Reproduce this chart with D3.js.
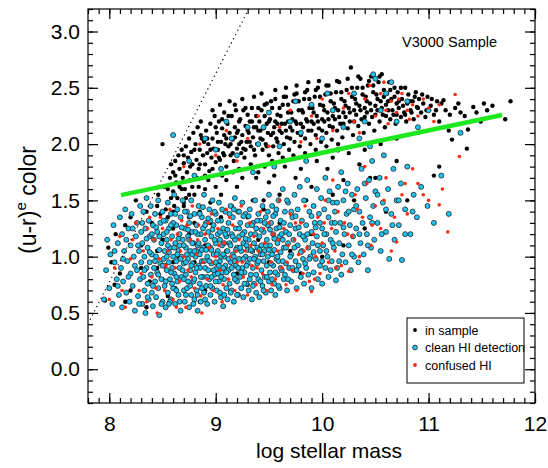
<!DOCTYPE html>
<html>
<head>
<meta charset="utf-8">
<script src="https://cdn.jsdelivr.net/npm/d3@7"></script>
<style>
  body { margin: 0; background: #fff; }
  text { font-family: "Liberation Sans", Arial, Helvetica, sans-serif; }
</style>
</head>
<body>
<div id="maViz"></div>
<script>
// dimensions + marges
const margin = {top: 9, right: 13, bottom: 65, left: 88};
const width = 548 - margin.left - margin.right;
const height = 468 - margin.top - margin.bottom;

// axes
const xDomain = [7.8, 12.0];
const yDomain = [-0.3, 3.2];
const xTicks = [8, 9, 10, 11, 12];
const yTicks = [0.0, 0.5, 1.0, 1.5, 2.0, 2.5, 3.0];
const legendLabels = ["in sample", "clean HI detection", "confused HI"];

// green dividing line + dotted line (endpoints)
const greenLine = [[8.11, 1.547], [11.69, 2.258]];
const dottedLine = [[7.82, 0.44], [9.31, 3.2]];

// "in sample" (black)
const inSample = [
  [8.46,1.55],[8.5,2.0],[8.52,1.62],[8.55,1.48],[8.57,1.7],[8.58,1.82],[8.6,1.58],[8.6,1.75],[8.48,1.38],[8.53,1.42],
  [8.62,1.85],[8.63,1.66],[8.65,1.9],[8.66,1.78],[8.68,1.95],[8.68,1.6],[8.7,1.83],[8.64,1.52],[8.69,1.7],[8.61,1.45],
  [8.72,1.98],[8.73,1.75],[8.74,1.88],[8.75,2.05],[8.76,1.68],[8.77,1.93],[8.78,1.82],[8.79,2.1],[8.71,1.6],[8.8,1.72],[8.75,1.55],
  [8.81,2.0],[8.82,1.86],[8.83,2.15],[8.84,1.78],[8.85,1.95],[8.86,2.08],[8.87,1.7],[8.88,1.9],[8.89,2.02],[8.9,1.82],[8.84,1.62],[8.86,2.2],
  [8.91,2.12],[8.92,1.92],[8.93,2.0],[8.94,1.76],[8.95,2.18],[8.96,1.88],[8.97,2.05],[8.98,1.96],[8.99,2.25],[9.0,1.84],[8.93,1.68],[8.97,2.3],
  [9.01,2.1],[9.02,1.95],[9.03,2.2],[9.04,1.86],[9.05,2.02],[9.06,2.14],[9.07,1.92],[9.08,2.28],[9.09,2.0],[9.1,1.8],[9.04,2.35],[9.06,1.72],[9.08,2.08],
  [9.11,2.18],[9.12,1.98],[9.13,2.1],[9.14,1.9],[9.15,2.25],[9.16,2.04],[9.17,1.85],[9.18,2.15],[9.19,2.3],[9.2,1.96],[9.13,2.38],[9.16,1.75],[9.18,2.06],
  [9.21,2.12],[9.22,2.0],[9.23,2.22],[9.24,1.92],[9.25,2.08],[9.26,2.3],[9.27,1.88],[9.28,2.16],[9.29,2.02],[9.3,2.26],[9.22,1.78],[9.25,2.4],[9.28,1.95],
  [9.31,2.1],[9.32,2.2],[9.33,1.98],[9.34,2.32],[9.35,2.06],[9.36,2.15],[9.37,1.9],[9.38,2.25],[9.39,2.0],[9.4,2.12],[9.33,1.82],[9.36,2.42],[9.38,1.7],
  [9.41,2.2],[9.42,2.05],[9.43,2.3],[9.44,1.95],[9.45,2.14],[9.46,2.25],[9.47,2.0],[9.48,2.36],[9.49,2.1],[9.5,1.9],[9.43,2.45],[9.46,1.8],[9.48,2.18],
  [9.51,2.22],[9.52,2.08],[9.53,2.32],[9.54,1.98],[9.55,2.15],[9.56,2.4],[9.57,2.05],[9.58,2.26],[9.59,1.92],[9.6,2.12],[9.53,1.85],[9.56,2.48],[9.58,2.18],
  [9.61,2.25],[9.62,2.1],[9.63,2.35],[9.64,2.0],[9.65,2.18],[9.66,2.42],[9.67,2.06],[9.68,2.28],[9.69,1.95],[9.7,2.15],[9.63,1.88],[9.66,2.5],[9.68,2.2],
  [9.71,2.28],[9.72,2.12],[9.73,2.38],[9.74,2.02],[9.75,2.2],[9.76,2.45],[9.77,2.1],[9.78,2.3],[9.79,1.98],[9.8,2.18],[9.73,1.9],[9.76,2.52],
  [9.81,2.3],[9.82,2.15],[9.83,2.4],[9.84,2.05],[9.85,2.22],[9.86,2.48],[9.87,2.12],[9.88,2.32],[9.89,2.0],[9.9,2.2],[9.84,1.92],[9.87,2.55],
  [9.91,2.32],[9.92,2.18],[9.93,2.42],[9.94,2.08],[9.95,2.25],[9.96,2.5],[9.97,2.14],[9.98,2.35],[9.99,2.02],[10.0,2.22],[9.94,1.95],[9.97,2.56],
  [10.01,2.34],[10.02,2.2],[10.03,2.44],[10.04,2.1],[10.05,2.28],[10.06,2.52],[10.07,2.16],[10.08,2.38],[10.09,2.04],[10.1,2.25],[10.04,1.98],
  [10.11,2.36],[10.12,2.22],[10.13,2.46],[10.14,2.12],[10.15,2.3],[10.16,2.55],[10.17,2.18],[10.18,2.4],[10.19,2.06],[10.2,2.28],[10.15,2.0],
  [10.21,2.38],[10.22,2.24],[10.23,2.48],[10.24,2.14],[10.25,2.32],[10.27,2.68],[10.26,2.2],[10.28,2.42],[10.29,2.08],[10.3,2.3],
  [10.31,2.4],[10.32,2.26],[10.33,2.5],[10.34,2.16],[10.35,2.34],[10.36,2.58],[10.37,2.22],[10.38,2.44],[10.39,2.1],[10.4,2.32],
  [10.41,2.42],[10.42,2.28],[10.43,2.52],[10.44,2.18],[10.45,2.36],[10.46,2.6],[10.47,2.24],[10.48,2.46],[10.49,2.12],[10.5,2.34],
  [10.51,2.44],[10.52,2.3],[10.53,2.55],[10.54,2.2],[10.55,2.38],[10.56,2.62],[10.57,2.26],[10.58,2.48],[10.59,2.15],[10.6,2.35],
  [10.61,2.45],[10.62,2.3],[10.63,2.55],[10.64,2.22],[10.65,2.4],[10.67,2.26],[10.68,2.5],[10.69,2.18],[10.7,2.36],
  [10.71,2.46],[10.72,2.32],[10.74,2.24],[10.75,2.4],[10.77,2.28],[10.78,2.5],[10.79,2.2],[10.8,2.36],
  [10.81,2.44],[10.83,2.3],[10.85,2.38],[10.86,2.22],[10.88,2.46],[10.89,2.33],
  [10.91,2.4],[10.93,2.28],[10.95,2.36],[10.97,2.24],[10.99,2.42],
  [11.02,2.34],[11.05,2.26],[11.08,2.38],[11.1,2.2],[11.14,2.39],[11.16,2.3],[11.19,2.12],
  [11.22,2.04],[11.25,2.32],[11.3,2.28],[11.37,2.13],[11.42,2.33],[11.49,2.2],[11.55,2.3],[11.6,2.34],[11.72,2.22],[11.77,2.38],
  [11.1,1.8],[11.05,1.72],[11.36,1.96],[10.7,1.85],[10.45,1.7],
  [9.05,1.55],[9.2,1.62],[9.35,1.5],[9.5,1.66],[9.6,1.55],[9.75,1.7],[9.9,1.62],[10.05,1.78],[10.2,1.68],[10.35,1.82],
  [9.15,1.45],[9.45,1.42],[9.85,1.5],[8.95,1.48],[8.85,1.4],[8.75,1.35],[9.3,1.35],[10.1,1.55],
  [7.99,1.08],[7.96,0.61],[8.02,0.95],[8.06,1.2],[8.1,0.85],[8.15,1.28],[8.2,0.7],[8.3,1.1],[8.35,0.55],[8.4,1.3],
  [8.45,0.9],[8.5,1.15],[8.55,0.65],[8.6,1.25],[8.65,1.0],[8.7,0.8],[8.75,1.2],[8.8,0.95],[8.85,0.6],[8.9,1.1],
  [8.95,1.3],[9.0,0.85],[9.1,1.05],[9.2,1.25],[9.3,0.75],[9.4,1.15],[9.5,0.95],[9.6,1.3],[9.7,1.05],[9.8,0.85],
  [9.9,1.2],[10.0,1.0],[10.1,1.3],[10.2,1.1],[10.4,1.25],[10.6,1.4],[10.8,1.5],[8.45,1.45],[8.55,1.35],[8.35,1.4],
  [8.25,1.5],[8.38,0.78],[8.62,0.72],[8.15,0.6],
  [8.55,1.6],[8.58,1.52],[8.62,1.72],[8.66,1.62],[8.7,1.9],[8.72,1.52],[8.76,1.8],[8.78,1.62],[8.8,1.95],[8.82,1.7],
  [8.85,1.82],[8.87,2.05],[8.9,1.72],[8.92,2.05],[8.95,1.95],[8.97,1.78],[9.0,2.15],[9.02,2.02],[9.03,1.88],[9.06,2.22],
  [9.08,1.9],[9.1,2.05],[9.12,2.25],[9.14,2.0],[9.16,1.92],[9.18,2.35],[9.2,2.1],[9.22,2.2],[9.24,2.02],[9.26,1.96],
  [9.28,2.32],[9.3,2.12],[9.32,2.02],[9.34,2.2],[9.36,1.95],[9.38,2.15],[9.4,2.32],[9.42,2.12],[9.44,2.04],[9.46,2.35],
  [9.48,1.98],[9.5,2.2],[9.52,2.38],[9.54,2.1],[9.56,2.2],[9.58,2.02],[9.6,2.32],[9.62,2.18],[9.64,2.42],[9.66,2.12],
  [9.68,2.35],[9.7,2.05],[9.72,2.22],[9.74,2.44],[9.76,2.18],[9.78,2.38],[9.8,2.08],[9.82,2.28],[9.84,2.46],[9.86,2.2],
  [9.88,2.4],[9.9,2.12],[9.92,2.28],[9.94,2.48],[9.96,2.2],[9.98,2.42],[10.0,2.12],[10.02,2.3],[10.04,2.52],[10.06,2.22],
  [10.08,2.45],[10.1,2.15],[10.12,2.32],[10.14,2.56],[10.16,2.24],[10.18,2.46],[10.2,2.18],[10.22,2.34],[10.24,2.58],[10.26,2.28],
  [10.28,2.5],[10.3,2.2],[10.32,2.36],[10.34,2.6],[10.36,2.3],[10.38,2.5],[10.4,2.24],[10.42,2.38],[10.44,2.56],[10.46,2.3],
  [10.48,2.52],[10.5,2.26],[10.52,2.4],[10.54,2.6],[10.56,2.32],[10.58,2.42],[10.6,2.25],[10.62,2.38],[10.64,2.48],[10.66,2.3],
  [10.68,2.42],[10.7,2.26],[10.72,2.38],[10.74,2.5],[10.76,2.34],[10.78,2.26],[10.82,2.38],[10.84,2.28],[10.87,2.42],[10.9,2.32],
  [10.94,2.44],[10.98,2.3],[11.03,2.4],[11.07,2.3],[11.12,2.36],[11.2,2.26],[11.28,2.36],[11.34,2.25],[11.45,2.28],[11.52,2.36],
  [8.6,1.4],[8.7,1.48],[8.8,1.55],[8.9,1.6],[9.0,1.62],[9.1,1.68],[9.25,1.7],[9.4,1.75],[9.55,1.72],[9.65,1.8],
  [9.8,1.78],[9.95,1.85],[10.1,1.88],[10.25,1.92],[10.4,1.95],[10.55,2.0],[10.7,2.05],[10.9,2.1],
  [8.05,0.75],[8.2,1.35],[8.3,0.9],[8.45,1.05],[8.6,0.95],[8.7,1.45],[8.9,0.7],[9.05,1.35],[9.2,0.85],[9.45,1.5],
  [9.75,1.25],[10.3,1.5],[10.5,1.7],[8.5,0.8],[8.8,1.3],[9.35,1.05]
];

// "clean HI detection" (cyan)
const cleanHI = [
  [7.95,0.62],[7.97,0.88],[7.98,1.15],[8.0,0.72],[8.01,1.02],[8.03,0.58],[8.04,1.28],[8.05,0.95],[8.07,0.8],[8.08,1.12],[8.09,0.66],[8.1,1.35],
  [8.11,0.9],[8.12,0.55],[8.12,1.2],[8.13,0.78],[8.14,1.05],[8.15,1.42],[8.16,0.68],[8.17,0.96],[8.18,1.25],[8.19,0.6],[8.2,0.85],[8.2,1.1],
  [8.21,1.38],[8.22,0.74],[8.23,1.0],[8.24,0.52],[8.25,1.18],[8.26,0.88],[8.26,1.3],[8.27,0.65],[8.28,1.05],[8.29,0.8],[8.29,1.45],[8.3,0.95],[8.3,1.22],
  [8.31,0.58],[8.31,1.12],[8.32,0.82],[8.32,1.4],[8.33,0.7],[8.33,1.0],[8.34,1.25],[8.34,0.5],[8.35,0.9],[8.35,1.52],[8.36,0.76],[8.36,1.08],
  [8.37,1.32],[8.37,0.62],[8.38,0.95],[8.38,1.18],[8.39,0.84],[8.39,1.45],[8.4,0.68],[8.4,1.02],[8.41,1.28],[8.41,0.56],[8.42,0.9],[8.42,1.15],
  [8.43,0.78],[8.43,1.38],[8.44,1.0],[8.44,0.64],[8.45,1.22],[8.45,0.86],[8.46,1.5],[8.46,0.72],[8.47,1.06],[8.47,0.48],[8.48,0.94],[8.48,1.3],
  [8.49,0.8],[8.49,1.12],[8.5,0.6],[8.5,1.4],
  [8.51,0.98],[8.51,1.2],[8.52,0.74],[8.52,1.05],[8.53,0.55],[8.53,1.32],[8.54,0.88],[8.54,1.15],[8.55,0.68],[8.55,1.48],[8.56,0.95],[8.56,1.25],
  [8.57,0.8],[8.57,1.08],[8.58,0.62],[8.58,1.38],[8.59,0.9],[8.59,1.18],[8.6,0.72],[8.6,1.0],[8.61,1.55],[8.61,0.85],[8.62,1.12],[8.62,0.58],
  [8.63,1.28],[8.63,0.96],[8.64,0.78],[8.64,1.42],[8.65,1.05],[8.65,0.66],[8.66,1.2],[8.66,0.9],[8.67,1.35],[8.67,0.52],[8.68,1.0],[8.68,0.82],
  [8.69,1.15],[8.69,1.5],[8.7,0.7],[8.7,0.94],[8.52,0.92],[8.55,1.1],[8.58,0.86],[8.6,1.3],[8.63,0.7],[8.66,1.1],[8.69,0.88],[8.54,1.0],[8.64,1.02],[8.57,0.6],
  [8.71,1.25],[8.71,0.6],[8.72,1.08],[8.72,0.84],[8.73,1.4],[8.73,0.72],[8.74,0.98],[8.74,1.18],[8.75,0.55],[8.75,1.3],[8.76,0.88],[8.76,1.05],
  [8.77,0.66],[8.77,1.5],[8.78,0.94],[8.78,1.22],[8.79,0.78],[8.79,1.12],[8.8,1.38],[8.8,0.62],[8.81,1.0],[8.81,0.86],[8.82,1.28],[8.82,0.7],
  [8.83,1.1],[8.83,0.52],[8.84,0.92],[8.84,1.45],[8.85,1.02],[8.85,0.76],[8.86,1.2],[8.86,0.6],[8.87,0.96],[8.87,1.35],[8.88,0.82],[8.88,1.08],
  [8.89,1.55],[8.89,0.68],[8.9,1.15],[8.9,0.9],[8.72,0.95],[8.75,1.15],[8.78,1.02],[8.8,0.8],[8.83,1.2],[8.85,0.9],[8.88,1.25],[8.74,0.78],[8.82,1.05],[8.87,0.72],
  [8.91,1.3],[8.91,0.74],[8.92,1.0],[8.92,0.58],[8.93,1.22],[8.93,0.88],[8.94,1.42],[8.94,0.8],[8.95,1.08],[8.95,0.66],[8.96,1.18],[8.96,0.94],
  [8.97,1.5],[8.97,0.72],[8.98,1.02],[8.98,1.28],[8.99,0.84],[8.99,0.6],[9.0,1.12],[9.0,1.38],[9.01,0.9],[9.01,0.7],[9.02,1.2],[9.02,1.05],
  [9.03,0.78],[9.03,1.48],[9.04,0.96],[9.04,1.15],[9.05,0.64],[9.05,1.32],[9.06,0.86],[9.06,1.1],[9.07,1.25],[9.07,0.56],[9.08,1.0],[9.08,0.8],
  [9.09,1.4],[9.09,0.92],[9.1,1.18],[9.1,0.72],[8.93,1.1],[8.96,0.82],[8.99,1.15],[9.02,0.85],[9.05,1.0],[9.08,1.12],[8.95,1.32],[9.0,0.95],[9.04,0.68],[9.07,0.9],
  [9.11,1.05],[9.11,0.62],[9.12,1.3],[9.12,0.88],[9.13,1.12],[9.13,0.76],[9.14,1.45],[9.14,0.95],[9.15,1.2],[9.15,0.7],[9.16,1.02],[9.16,1.35],
  [9.17,0.84],[9.17,0.6],[9.18,1.15],[9.18,1.52],[9.19,0.92],[9.19,1.25],[9.2,0.78],[9.2,1.08],[9.21,1.4],[9.21,0.66],[9.22,0.98],[9.22,1.18],
  [9.23,0.82],[9.23,1.3],[9.24,1.05],[9.24,0.72],[9.25,1.48],[9.25,0.9],[9.26,1.12],[9.26,0.64],[9.27,1.22],[9.27,0.86],[9.28,1.0],[9.28,1.38],
  [9.29,0.76],[9.29,1.1],[9.3,0.94],[9.3,1.28],[9.14,1.1],[9.18,0.8],[9.22,1.25],[9.26,0.98],[9.17,1.0],
  [9.31,1.15],[9.31,0.7],[9.32,0.98],[9.32,1.42],[9.33,0.84],[9.33,1.2],[9.34,0.62],[9.34,1.05],[9.35,1.3],[9.35,0.9],[9.36,1.12],[9.36,0.76],
  [9.37,1.5],[9.37,1.0],[9.38,0.68],[9.38,1.25],[9.39,0.94],[9.39,1.08],[9.4,1.38],[9.4,0.8],[9.41,1.18],[9.41,0.64],[9.42,1.02],[9.42,1.32],
  [9.43,0.88],[9.43,1.1],[9.44,0.74],[9.44,1.45],[9.45,0.96],[9.45,1.22],[9.46,1.05],[9.46,0.82],[9.47,1.35],[9.47,0.68],[9.48,1.15],[9.48,0.92],
  [9.49,1.28],[9.49,1.0],[9.5,0.78],[9.5,1.55],
  [9.51,1.1],[9.51,0.86],[9.52,1.3],[9.52,0.7],[9.53,1.02],[9.53,1.45],[9.54,0.92],[9.54,1.2],[9.55,0.76],[9.55,1.06],[9.56,1.38],[9.56,0.66],
  [9.57,0.98],[9.57,1.25],[9.58,1.12],[9.58,0.84],[9.59,1.5],[9.59,0.96],[9.6,1.18],[9.6,0.72],[9.61,1.04],[9.61,1.32],[9.62,0.88],[9.63,1.15],
  [9.63,1.6],[9.64,0.8],[9.64,1.08],[9.65,1.4],[9.66,0.94],[9.66,1.22],[9.67,0.7],[9.68,1.12],[9.68,1.48],[9.69,0.9],[9.7,1.28],
  [9.71,1.02],[9.71,0.78],[9.72,1.35],[9.73,1.15],[9.73,0.88],[9.74,1.55],[9.75,0.96],[9.75,1.25],[9.76,0.72],[9.77,1.1],[9.77,1.42],[9.78,0.92],
  [9.79,1.2],[9.79,1.62],[9.8,0.82],[9.81,1.05],[9.81,1.32],[9.82,0.98],[9.83,1.5],[9.83,0.76],[9.84,1.15],[9.85,1.28],[9.85,0.9],[9.86,1.68],
  [9.87,1.08],[9.87,0.84],[9.88,1.4],[9.89,1.0],[9.9,1.22],[9.9,0.72],
  [9.91,1.12],[9.92,1.45],[9.92,0.86],[9.93,1.3],[9.94,0.98],[9.95,1.6],[9.95,1.18],[9.96,0.8],[9.97,1.38],[9.98,1.05],[9.98,0.92],[9.99,1.52],
  [10.0,1.25],[10.0,0.76],[10.01,1.1],[10.02,1.42],[10.03,0.9],[10.03,1.7],[10.04,1.2],[10.05,1.0],[10.06,1.35],[10.06,0.82],[10.07,1.58],
  [10.08,1.15],[10.09,0.96],[10.09,1.3],[10.1,1.48],[10.13,0.79],
  [10.11,1.08],[10.12,1.4],[10.13,1.22],[10.14,0.9],[10.15,1.62],[10.16,1.12],[10.17,1.3],[10.18,0.84],[10.18,1.75],[10.19,1.02],[10.2,1.5],
  [10.21,1.2],[10.22,0.95],[10.23,1.38],[10.24,1.65],[10.25,1.1],[10.26,1.28],[10.27,0.88],[10.28,1.55],[10.29,1.18],[10.3,1.42],[10.3,1.0],
  [10.32,1.25],[10.33,1.6],[10.34,0.95],[10.35,1.4],[10.36,1.12],[10.37,1.78],[10.38,1.3],[10.39,1.02],[10.41,1.52],[10.42,1.2],[10.43,0.88],
  [10.44,1.68],[10.45,1.35],[10.46,1.08],[10.47,1.85],[10.48,1.45],[10.49,1.15],[10.5,1.58],
  [10.52,1.3],[10.54,1.7],[10.55,1.05],[10.57,1.48],[10.58,1.9],[10.6,1.22],[10.62,1.6],[10.63,0.98],[10.65,1.38],[10.67,1.78],[10.68,1.15],[10.7,1.5],
  [10.72,1.28],[10.74,1.65],[10.75,0.97],[10.78,1.42],[10.8,1.8],[10.83,1.2],[10.86,1.55],[10.89,1.35],
  [10.93,1.62],[10.99,1.45],[11.05,1.3],[11.12,1.72],[11.19,1.38],
  [8.6,2.08],[8.75,1.85],[8.9,2.05],[9.0,1.95],[9.1,2.2],[9.2,1.9],[9.3,2.15],[9.4,2.0],[9.5,2.28],[9.6,1.98],
  [9.7,2.2],[9.8,2.1],[9.9,2.35],[10.0,2.05],[10.1,2.3],[10.2,2.15],[10.3,2.45],[10.4,2.2],[10.5,2.58],[10.55,2.3],
  [10.6,2.45],[10.7,2.2],[10.8,2.38],[10.9,2.15],[11.0,2.3],[9.15,2.05],[9.45,2.15],[9.75,2.38],[10.05,2.45],[10.35,2.05],
  [10.65,2.55],[10.48,2.62],[9.55,1.8],[9.85,1.85],[10.15,1.95],[8.8,1.72],[9.05,1.78],[9.35,1.75],[10.45,1.98],[11.3,2.1],
  [8.05,1.05],[8.08,0.74],[8.13,0.98],[8.16,1.15],[8.18,0.82],[8.22,1.25],[8.24,0.92],[8.27,1.1],[8.28,0.58],[8.31,1.3],
  [8.33,0.88],[8.35,1.16],[8.36,0.64],[8.38,1.04],[8.4,1.2],[8.41,0.74],[8.43,0.96],[8.44,1.26],[8.46,0.84],[8.47,1.18],
  [8.49,0.58],[8.5,0.92],[8.51,1.32],[8.53,0.78],[8.54,1.22],[8.56,0.58],[8.56,1.04],[8.58,1.28],[8.59,0.76],[8.61,1.08],
  [8.62,1.38],[8.63,0.82],[8.65,1.16],[8.66,0.6],[8.67,0.98],[8.68,1.26],[8.7,1.1],[8.7,0.8],[8.71,1.4],[8.72,0.66],
  [8.73,1.02],[8.74,1.24],[8.76,0.74],[8.76,1.36],[8.77,0.92],[8.78,1.12],[8.79,0.58],[8.8,1.05],[8.81,1.22],[8.82,0.9],
  [8.83,0.66],[8.84,1.12],[8.85,1.38],[8.86,0.82],[8.87,1.06],[8.88,1.44],[8.89,0.96],[8.9,0.62],[8.9,1.28],[8.91,1.06],
  [8.92,0.82],[8.93,1.34],[8.94,0.96],[8.95,0.74],[8.96,1.06],[8.97,1.24],[8.98,0.88],[8.99,1.4],[9.0,0.78],[9.01,1.02],
  [9.02,1.32],[9.03,0.92],[9.04,1.22],[9.05,0.82],[9.06,1.42],[9.07,1.02],[9.08,0.66],[9.09,1.2],[9.1,0.86],[9.11,1.24],
  [9.12,0.98],[9.13,1.38],[9.14,0.68],[9.15,0.9],[9.16,1.18],[9.17,1.42],[9.18,0.96],[9.19,1.06],[9.2,0.66],[9.21,0.9],
  [9.22,1.4],[9.23,1.08],[9.24,0.86],[9.25,1.2],[9.26,1.36],[9.27,0.76],[9.28,1.16],[9.29,0.92],[9.3,1.06],[9.31,1.36],
  [9.32,0.8],[9.33,1.06],[9.34,1.28],[9.35,0.74],[9.36,0.98],[9.37,1.2],[9.38,0.84],[9.39,1.32],[9.4,0.96],[9.41,1.06],
  [9.42,0.78],[9.43,1.24],[9.44,1.02],[9.45,0.7],[9.46,1.3],[9.47,1.1],[9.48,0.82],[9.49,1.4],[9.5,1.06],[9.51,1.24],
  [9.52,0.94],[9.53,0.8],[9.54,1.36],[9.55,1.16],[9.56,0.86],[9.57,1.42],[9.58,1.0],[9.59,0.74],[9.6,1.26],[9.61,0.9],
  [9.62,1.2],[9.63,0.96],[9.64,1.3],[9.65,0.84],[9.66,1.08],[9.67,1.5],[9.68,0.8],[9.69,1.2],[9.7,1.0],[9.71,1.4],
  [9.72,0.9],[9.74,1.08],[9.75,1.36],[9.76,0.88],[9.78,1.26],[9.8,1.04],[9.82,1.18],[9.84,0.94],[9.86,1.2],[9.88,0.98],
  [9.9,1.36],[9.92,1.04],[9.94,1.26],[9.96,1.1],[9.98,1.3],[10.0,0.96],[10.02,1.2],[10.04,1.05],[10.06,1.5],[10.08,0.88],
  [10.1,1.12],[10.12,1.3],[10.14,1.48],[10.16,0.96],[10.2,1.26],[10.22,1.58],[10.25,1.4],[10.28,1.02],[10.32,1.45],[10.35,1.2],
  [10.4,1.65],[10.43,1.1],[10.47,1.3],[10.52,1.55],[10.56,1.2],[10.6,1.42],[10.66,1.28],[10.72,1.5],[10.78,1.2],[10.85,1.4]
];

// "confused HI" (red)
const confusedHI = [
  [8.0,0.62],[8.05,0.9],[8.1,1.18],[8.15,0.55],[8.2,0.98],[8.25,1.3],[8.28,0.7],[8.32,1.05],[8.35,0.6],[8.38,1.35],
  [8.4,0.82],[8.42,1.15],[8.45,0.5],[8.47,0.98],[8.5,1.25],[8.52,0.7],[8.55,1.05],[8.57,1.42],[8.6,0.62],[8.62,0.9],
  [8.64,1.2],[8.66,0.78],[8.68,1.32],[8.7,1.0],[8.72,0.55],[8.74,0.88],[8.76,1.15],[8.78,1.45],[8.8,0.72],[8.82,1.02],
  [8.84,1.28],[8.86,0.65],[8.88,0.95],[8.9,1.2],[8.92,0.8],[8.94,1.08],[8.96,1.38],[8.98,0.7],[9.0,1.0],[9.02,1.25],
  [9.04,0.88],[9.06,0.6],[9.08,1.12],[9.1,1.42],[9.12,0.8],[9.14,1.0],[9.16,1.28],[9.18,0.7],[9.2,0.95],[9.22,1.15],
  [9.24,1.45],[9.26,0.82],[9.28,1.05],[9.3,0.66],[9.32,1.3],[9.34,0.92],[9.36,1.18],[9.38,0.75],[9.4,1.05],[9.42,1.4],
  [9.44,0.85],[9.46,1.12],[9.48,0.7],[9.5,1.3],[9.52,0.95],[9.54,1.2],[9.56,0.8],[9.58,1.05],[9.6,1.5],[9.62,0.9],
  [9.64,1.25],[9.66,0.75],[9.68,1.1],[9.7,1.38],[9.72,0.88],[9.74,1.15],[9.76,0.7],[9.78,1.02],[9.8,1.3],[9.82,0.85],
  [9.84,1.45],[9.86,1.08],[9.88,0.78],[9.9,0.69],[9.92,1.2],[9.94,1.0],[9.96,1.35],[9.98,0.85],[10.0,1.12],[10.03,1.5],
  [10.06,0.95],[10.09,1.25],[10.12,1.05],[10.15,1.4],[10.18,0.92],[10.21,1.3],[10.25,0.87],[10.28,1.18],[10.31,1.55],[10.35,1.0],
  [10.38,1.35],[10.42,1.65],[10.46,1.1],[10.5,1.45],[10.55,1.25],[10.6,1.7],[10.65,1.05],[10.7,1.13],[10.75,1.55],[10.8,1.38],
  [10.9,1.65],[11.0,1.5],[11.18,1.22],[11.1,1.46],[10.85,1.78],[10.4,1.8],[10.1,1.68],
  [8.7,1.8],[8.85,2.0],[9.0,1.9],[9.1,2.12],[9.2,1.85],[9.3,2.05],[9.4,2.25],[9.5,1.98],[9.6,2.15],[9.7,2.3],
  [9.8,2.02],[9.9,2.25],[10.0,2.4],[10.1,2.12],[10.2,2.32],[10.3,2.2],[10.4,2.4],[10.5,2.25],[10.55,2.45],[10.6,2.3],
  [10.65,2.38],[10.7,2.28],[10.75,2.45],[10.8,2.3],[10.85,2.35],[10.9,2.25],[10.95,2.4],[11.0,2.32],[11.05,2.2],[11.1,2.35],
  [11.25,2.44],[11.29,1.89],[10.58,2.55],[10.45,2.52],[10.25,2.45],[9.95,2.05],[10.35,2.1],[10.62,2.18],[10.72,2.4],[10.82,2.22],
  [8.12,0.7],[8.22,1.15],[8.3,0.85],[8.36,1.25],[8.44,0.72],[8.48,1.35],[8.53,0.92],[8.58,1.15],[8.63,0.55],[8.67,1.05],
  [8.73,1.28],[8.77,0.82],[8.83,1.15],[8.87,0.5],[8.93,1.3],[8.97,0.95],[9.03,1.1],[9.07,0.75],[9.13,1.35],[9.19,1.05],
  [9.25,0.95],[9.33,1.1],[9.39,0.9],[9.45,1.25],[9.53,0.75],[9.59,1.15],[9.67,0.95],[9.75,1.3],[9.83,1.05],[9.93,0.8],
  [10.02,1.3],[10.13,0.9],[10.24,1.2],[10.33,1.42],[10.47,1.28],[10.58,1.5],[10.68,1.35],[10.78,1.65],[10.95,1.55],[11.13,1.6]
];

/////////////////////////////////////////////////////////

const svg = d3.select("#maViz")
              .append("svg")
                .attr("width", width + margin.left + margin.right)
                .attr("height", height + margin.top + margin.bottom)
              .append("g")
                .attr("transform", "translate(" + margin.left + "," + margin.top + ")");

const x = d3.scaleLinear().domain(xDomain).range([0, width]);
const y = d3.scaleLinear().domain(yDomain).range([height, 0]);

// minor ticks every 0.1
const xMinor = d3.range(78, 121).map(d => d / 10);
const yMinor = d3.range(-3, 33).map(d => d / 10);

function styleAxis(g) {
  g.select(".domain").remove();
  g.selectAll("line").attr("stroke", "#000").attr("stroke-width", 1.2);
}

// bottom
svg.append("g").attr("transform", `translate(0,${height})`)
   .call(d3.axisBottom(x).tickValues(xMinor).tickSize(-5).tickFormat(""))
   .call(styleAxis);
svg.append("g").attr("transform", `translate(0,${height})`)
   .call(d3.axisBottom(x).tickValues(xTicks).tickSize(-10).tickPadding(13).tickFormat(d3.format("d")))
   .call(styleAxis)
   .selectAll("text").style("font-size", "21px").attr("fill", "#000");
// top
svg.append("g")
   .call(d3.axisTop(x).tickValues(xMinor).tickSize(-5).tickFormat(""))
   .call(styleAxis);
svg.append("g")
   .call(d3.axisTop(x).tickValues(xTicks).tickSize(-10).tickFormat(""))
   .call(styleAxis);
// left
svg.append("g")
   .call(d3.axisLeft(y).tickValues(yMinor).tickSize(-5).tickFormat(""))
   .call(styleAxis);
svg.append("g")
   .call(d3.axisLeft(y).tickValues(yTicks).tickSize(-10).tickPadding(8).tickFormat(d3.format(".1f")))
   .call(styleAxis)
   .selectAll("text").style("font-size", "21px").attr("fill", "#000");
// right
svg.append("g").attr("transform", `translate(${width},0)`)
   .call(d3.axisRight(y).tickValues(yMinor).tickSize(-5).tickFormat(""))
   .call(styleAxis);
svg.append("g").attr("transform", `translate(${width},0)`)
   .call(d3.axisRight(y).tickValues(yTicks).tickSize(-10).tickFormat(""))
   .call(styleAxis);

// points : noir, puis cyan, puis rouge par dessus
const pts = svg.append("g");
pts.selectAll(".blk").data(inSample).join("circle")
   .attr("class", "blk")
   .attr("cx", d => x(d[0])).attr("cy", d => y(d[1]))
   .attr("r", 2.2).attr("fill", "#000");
pts.selectAll(".cyan").data(cleanHI).join("circle")
   .attr("class", "cyan")
   .attr("cx", d => x(d[0])).attr("cy", d => y(d[1]))
   .attr("r", 2.5).attr("fill", "#1cc4f2").attr("stroke", "#222").attr("stroke-width", 0.8);
pts.selectAll(".red").data(confusedHI).join("circle")
   .attr("class", "red")
   .attr("cx", d => x(d[0])).attr("cy", d => y(d[1]))
   .attr("r", 1.8).attr("fill", "#ff2a14");

// lines
const line = d3.line().x(d => x(d[0])).y(d => y(d[1]));
svg.append("path").datum(dottedLine).attr("d", line)
   .attr("stroke", "#000").attr("stroke-width", 1.2).attr("stroke-dasharray", "1.2,3.5").attr("fill", "none");
svg.append("path").datum(greenLine).attr("d", line)
   .attr("stroke", "#1ee81e").attr("stroke-width", 4.5).attr("fill", "none");

// frame
svg.append("rect").attr("width", width).attr("height", height)
   .attr("fill", "none").attr("stroke", "#000").attr("stroke-width", 1.2);

// titles
svg.append("text").attr("x", 329 - margin.left).attr("y", height + 55)
   .attr("text-anchor", "middle").style("font-size", "21px").text("log stellar mass");

const yl = svg.append("text")
   .attr("transform", `translate(-52,${height / 2 - 6}) rotate(-90)`)
   .attr("text-anchor", "middle").style("font-size", "23px");
yl.append("tspan").text("(u-r)");
yl.append("tspan").attr("dy", -10).style("font-size", "15px").text("e");
yl.append("tspan").attr("dy", 10).text(" color");

svg.append("text").attr("x", 402 - margin.left).attr("y", 47 - margin.top)
   .attr("text-anchor", "start").style("font-size", "14.5px").text("V3000 Sample");

// legend
const leg = svg.append("g").attr("transform", `translate(${407 - margin.left},${318 - margin.top})`);
leg.append("rect").attr("width", 117).attr("height", 65)
   .attr("fill", "#fff").attr("stroke", "#000").attr("stroke-width", 1);
const legColors = ["#000", "#1cc4f2", "#ff2a14"];
legendLabels.forEach((t, i) => {
  leg.append("circle").attr("cx", 8).attr("cy", 12 + i * 17.5).attr("r", i == 1 ? 2.4 : 1.9)
     .attr("fill", legColors[i]).attr("stroke", i == 1 ? "#222" : "none").attr("stroke-width", 0.8);
  leg.append("text").attr("x", 18).attr("y", 16.5 + i * 17.5).style("font-size", "12.5px").text(t);
});
</script>
</body>
</html>
